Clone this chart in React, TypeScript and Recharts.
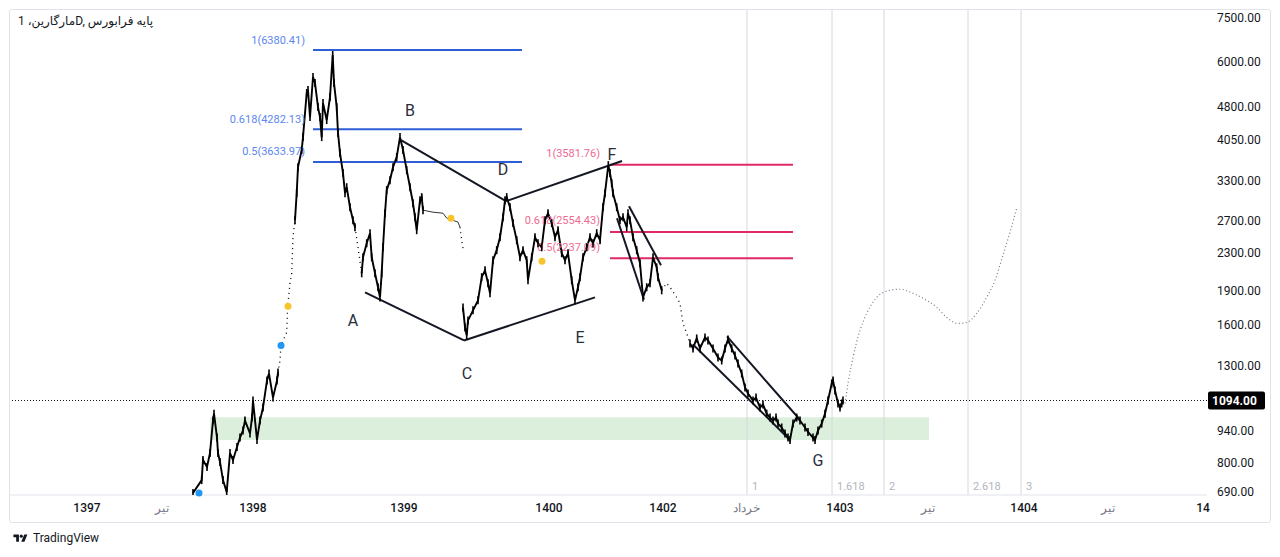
import React from "react";
import {
  ComposedChart,
  Line,
  XAxis,
  YAxis,
  ReferenceLine,
  ReferenceArea,
  ReferenceDot,
} from "recharts";

type Pt = [number, number];

// ---- price path (bar index, price) ----
const rise1397: Pt[] = [
  [183, 687], [191.7, 733], [193, 811], [197, 783], [200, 840], [203, 989], [204, 1024],
  [207, 908], [208, 840], [210, 803], [213, 733], [216.7, 690], [220, 840], [223, 811],
  [227, 866], [230, 908], [233, 941], [235, 989], [240, 927], [242, 1004], [243, 1094],
  [247, 897], [250, 989], [253, 1056], [257, 1210], [259, 1253], [263, 1110], [267, 1210], [268, 1260],
];
const gapUp1398: Pt[] = [
  [268, 1260], [270, 1338], [271, 1443], [276.7, 1541], [277.7, 1757], [280, 1974],
  [281.7, 2075], [283, 2488], [285, 2711],
];
const top1398: Pt[] = [
  [285, 2711], [286.7, 3106], [288, 3540], [291.7, 3858], [293, 4118], [296.7, 5141], [298, 5219],
  [300, 4554], [303, 5571], [305, 5407], [308, 4789], [310, 4554], [311.7, 4118], [313, 4889],
  [316.7, 4487], [320, 5036], [322.7, 6224], [324, 5407], [326.7, 4789], [328, 4203], [330, 3800],
  [333, 3436], [335, 3106], [336.7, 3200], [340, 2893], [343, 2711], [345, 2616],
];
const gapDownA: Pt[] = [[345, 2616], [348, 2365], [351.7, 2075]];
const waveAB: Pt[] = [
  [351.7, 2075], [353, 2249], [356.7, 2414], [360, 2539], [361.7, 2249], [365, 2075], [368, 1934],
  [370, 1838], [371.7, 2075], [373, 2365], [375, 2808], [376.7, 3153], [380, 3316], [383, 3540],
  [386.7, 3723], [390, 4118], [393, 3858], [396.7, 3488], [400, 3200], [403, 2953], [405, 2751],
  [406.7, 2578], [410, 2998], [411.7, 3044], [413, 2851],
];
const flat1399: Pt[] = [[413, 2851], [423, 2822], [433, 2808], [436.7, 2739], [448, 2684], [450, 2616]];
const gapFlat: Pt[] = [[450, 2616], [451.7, 2451], [453, 2353]];
const waveCF: Pt[] = [
  [453, 1748], [455, 1580], [456.7, 1518], [458, 1637], [463, 1722], [468, 1811], [471.7, 2035],
  [475, 2107], [478, 1974], [480, 1876], [483, 2216], [486.7, 2331], [490, 2488], [493, 2751],
  [495, 2998], [496.7, 3044], [500, 2893], [503, 2671], [506.7, 2451], [510, 2249], [513, 2331],
  [516.7, 2216], [518, 2004], [521.7, 2249], [525, 2488], [528, 2414], [531.7, 2365], [535, 2711],
  [538, 2808], [541.7, 2671], [545, 2488], [548, 2578], [551.7, 2296], [555, 2216], [558, 2296],
  [561.7, 2004], [565, 1811], [568, 1934], [570, 2033], [573, 2249], [576.7, 2365], [580, 2488],
  [583, 2414], [586.7, 2539], [590, 2451], [593, 2893], [595, 3106], [598.3, 3576], [600, 3436],
  [601.7, 3266], [603, 3106], [606.7, 2893], [610, 2711], [613, 2751], [616.7, 2616], [618, 2808],
  [620, 2711], [623, 2488], [626.7, 2331], [630, 2183], [633, 1838], [636.7, 1934], [640, 1974],
  [643, 2249], [646.7, 2138], [648, 2033], [651.7, 1905],
];
const gap1402: Pt[] = [
  [651.7, 1905], [656.7, 1974], [660, 1934], [666.7, 1838], [670, 1784], [673, 1612],
  [676.7, 1534], [680, 1458],
];
const waveFG: Pt[] = [
  [680, 1458], [683, 1422], [686.7, 1495], [690, 1422], [695, 1503], [698, 1480], [703, 1422],
  [708, 1358], [711.7, 1338], [715, 1422], [718, 1487], [721.7, 1422], [725, 1372], [728, 1318],
  [731.7, 1253], [735, 1168], [738, 1133], [743, 1094], [746, 1110], [750, 1056], [753, 1072],
  [756.7, 1024], [760, 1004], [763, 989], [766, 1004], [768, 974], [771.7, 955], [775, 927],
  [778, 908], [780, 897], [783, 974], [786.7, 1004], [790, 989], [795, 955], [798, 934],
  [803, 908], [805, 897], [808, 941], [811.7, 974], [815, 1024], [818, 1094], [821.7, 1192],
  [823, 1210], [825, 1150], [828, 1078], [830, 1056], [831.7, 1078], [833, 1094],
];
const projection: Pt[] = [
  [835, 1078], [838, 1192], [843, 1358], [850, 1557], [856.7, 1696], [866.7, 1838], [880, 1905],
  [890, 1915], [903, 1876], [916.7, 1811], [926.7, 1748], [936.7, 1662], [948, 1612],
  [956.7, 1620], [966.7, 1696], [976.7, 1838], [985, 2004], [993, 2273], [1000, 2552], [1007, 2893],
];

// ---- axes ----
const xTicks = [77, 152, 243, 394, 539, 653, 736, 830, 918, 1014, 1098, 1193];
const xTickLabels = ["1397", "تیر", "1398", "1399", "1400", "1402", "خرداد", "1403", "تیر", "1404", "تیر", "14"];
const yTicks = [7500, 6000, 4800, 4050, 3300, 2700, 2300, 1900, 1600, 1300, 940, 800, 690];
const lastPrice = 1094;

// ---- drawings ----
const blueFibLevels = [6380.41, 4282.13, 3633.97];
const blueFibRatios = ["1", "0.618", "0.5"];
const blueFibSpan = [303, 512];
const pinkFibLevels = [3581.76, 2554.43, 2237.09];
const pinkFibRatios = ["1", "0.618", "0.5"];
const pinkFibSpan = [600, 783];

const wedgeLower: Pt[] = [[355, 1886], [454, 1480], [585, 1838]];
const wedgeUpper: Pt[] = [[391, 4057], [496, 2983], [612, 3650]];
const channelOneA: Pt[] = [[619, 2908], [651, 2161]];
const channelOneB: Pt[] = [[607, 2737], [634, 1819]];
const channelTwoA: Pt[] = [[717, 1510], [790, 993]];
const channelTwoB: Pt[] = [[683, 1450], [780, 897]];

const waveLetters = ["A", "B", "C", "D", "E", "F", "G"];
const waveLetterPos: Pt[] = [[343, 1637], [400, 4719], [457, 1253], [493, 3500], [570, 1503], [602, 3781], [808, 807]];

const timeZoneT = [737, 822, 874, 958, 1011];
const timeZoneLabels = ["1", "1.618", "2", "2.618", "3"];

const supportZone = { t1: 200, t2: 919, low: 897, high: 1005 };

const yellowDots: Pt[] = [[278, 1757], [441, 2737], [532, 2205]];
const blueDots: Pt[] = [[271, 1443], [189, 687]];

const title = "مارگارین، 1D, پایه فرابورس";

const FONT = "Roboto, 'Noto Sans', Arial, sans-serif";
const X_DOMAIN: [number, number] = [0, 1197];
const Y_DOMAIN: [number, number] = [680, 7806];

const rows = (pts: Pt[]) => pts.map(([t, p]) => ({ t, p }));

const XTick = (props: any) => {
  const { x, y, payload } = props;
  const i = xTicks.indexOf(payload.value);
  const label = xTickLabels[i] ?? "";
  const major = /^\d+$/.test(label);
  return (
    <text
      x={x}
      y={y + 13}
      textAnchor="middle"
      dominantBaseline="central"
      fontFamily={FONT}
      fontSize={12}
      fontWeight={major ? 500 : 400}
      fill={major ? "#131722" : "#787b86"}
    >
      {label}
    </text>
  );
};

const YTick = (props: any) => {
  const { x, y, payload } = props;
  return (
    <text x={x + 10} y={y} textAnchor="start" dominantBaseline="central" fontFamily={FONT} fontSize={12} fill="#131722">
      {Number(payload.value).toFixed(2)}
    </text>
  );
};

// a short vertical stroke at each bar, so the path reads as a run of thin bars
const BarTick = (props: any) => {
  const { cx, cy } = props;
  if (cx == null || cy == null) return <g />;
  return <line x1={cx} x2={cx} y1={cy - 4} y2={cy + 4} stroke="#000" strokeWidth={1.6} />;
};

const solidLine = (pts: Pt[], key: string) => (
  <Line
    key={key}
    data={rows(pts)}
    dataKey="p"
    type="linear"
    stroke="#000"
    strokeWidth={1.9}
    dot={<BarTick />}
    activeDot={false}
    isAnimationActive={false}
  />
);
const dottedLine = (pts: Pt[], key: string) => (
  <Line
    key={key}
    data={rows(pts)}
    dataKey="p"
    type="linear"
    stroke="#000"
    strokeWidth={1.3}
    strokeDasharray="1 4"
    dot={false}
    activeDot={false}
    isAnimationActive={false}
  />
);
const segLines = (pts: Pt[], key: string) =>
  pts.slice(1).map(([t, p], i) => (
    <ReferenceLine
      key={`${key}${i}`}
      segment={[
        { x: pts[i][0], y: pts[i][1] },
        { x: t, y: p },
      ]}
      stroke="#131722"
      strokeWidth={2}
    />
  ));

export default function App() {
  return (
    <div style={{ position: "relative", width: 1264, height: 545, fontFamily: FONT }}>
      <div
        style={{
          position: "absolute",
          left: 1,
          top: 1,
          width: 1260,
          height: 512,
          border: "1px solid #e0e3eb",
          borderRadius: 3,
          pointerEvents: "none",
        }}
      />
      <ComposedChart width={1262} height={514} margin={{ top: 2, right: 2, bottom: 0, left: 2 }}>
        <XAxis
          type="number"
          dataKey="t"
          domain={X_DOMAIN}
          allowDataOverflow
          ticks={xTicks}
          tick={<XTick />}
          tickLine={false}
          tickSize={0}
          tickMargin={0}
          axisLine={{ stroke: "#e0e3eb" }}
          height={27}
          interval={0}
        />
        <YAxis
          type="number"
          scale="log"
          domain={Y_DOMAIN}
          allowDataOverflow
          orientation="right"
          ticks={yTicks}
          tick={<YTick />}
          tickLine={false}
          tickSize={0}
          tickMargin={0}
          axisLine={false}
          width={61}
          interval={0}
        />

        {timeZoneT.map((t) => (
          <ReferenceLine key={`tz${t}`} x={t} stroke="#d6d8de" strokeWidth={1} />
        ))}
        {timeZoneT.map((t, i) => (
          <ReferenceDot
            key={`tzl${t}`}
            x={t}
            y={Y_DOMAIN[0]}
            r={0}
            shape={(p: any) => (
              <text x={p.cx + 5} y={p.cy - 9} fontFamily={FONT} fontSize={11} fill="#b2b5be" dominantBaseline="central">
                {timeZoneLabels[i]}
              </text>
            )}
          />
        ))}

        <ReferenceArea
          x1={supportZone.t1}
          x2={supportZone.t2}
          y1={supportZone.low}
          y2={supportZone.high}
          fill="#4caf50"
          fillOpacity={0.2}
          stroke="none"
        />

        <ReferenceLine y={lastPrice} stroke="#131722" strokeWidth={1} strokeDasharray="1 2" />

        {blueFibLevels.map((v, i) => (
          <ReferenceLine
            key={`bf${i}`}
            segment={[{ x: blueFibSpan[0], y: v }, { x: blueFibSpan[1], y: v }]}
            stroke="#2e5ed6"
            strokeWidth={2}
          />
        ))}
        {blueFibLevels.map((v, i) => (
          <ReferenceDot
            key={`bfl${i}`}
            x={blueFibSpan[0]}
            y={v}
            r={0}
            shape={(p: any) => (
              <text x={p.cx - 8} y={p.cy - 10} textAnchor="end" dominantBaseline="central" fontFamily={FONT} fontSize={11} fill="#5b87ee">
                {`${blueFibRatios[i]}(${v.toFixed(2)})`}
              </text>
            )}
          />
        ))}
        {pinkFibLevels.map((v, i) => (
          <ReferenceLine
            key={`pf${i}`}
            segment={[{ x: pinkFibSpan[0], y: v }, { x: pinkFibSpan[1], y: v }]}
            stroke="#df2a63"
            strokeWidth={2}
          />
        ))}
        {pinkFibLevels.map((v, i) => (
          <ReferenceDot
            key={`pfl${i}`}
            x={pinkFibSpan[0]}
            y={v}
            r={0}
            shape={(p: any) => (
              <text x={p.cx - 10} y={p.cy - 11} textAnchor="end" dominantBaseline="central" fontFamily={FONT} fontSize={11} fill="#ee6b92">
                {`${pinkFibRatios[i]}(${v.toFixed(2)})`}
              </text>
            )}
          />
        ))}

        {solidLine(rise1397, "s1")}
        {dottedLine(gapUp1398, "d1")}
        {solidLine(top1398, "s2")}
        {dottedLine(gapDownA, "d2")}
        {solidLine(waveAB, "s3")}
        <Line
          data={rows(flat1399)}
          dataKey="p"
          type="linear"
          stroke="#333"
          strokeWidth={1}
          dot={false}
          activeDot={false}
          isAnimationActive={false}
        />
        {dottedLine(gapFlat, "d3")}
        {solidLine(waveCF, "s4")}
        {dottedLine(gap1402, "d4")}
        {solidLine(waveFG, "s5")}
        <Line
          data={rows(projection)}
          dataKey="p"
          type="monotone"
          stroke="#787b86"
          strokeWidth={1.2}
          strokeDasharray="1 2.5"
          dot={false}
          activeDot={false}
          isAnimationActive={false}
        />

        {segLines(wedgeLower, "wl")}
        {segLines(wedgeUpper, "wu")}
        {segLines(channelOneA, "c1a")}
        {segLines(channelOneB, "c1b")}
        {segLines(channelTwoA, "c2a")}
        {segLines(channelTwoB, "c2b")}

        {yellowDots.map(([t, p], i) => (
          <ReferenceDot key={`yd${i}`} x={t} y={p} r={3.5} fill="#f7c52b" stroke="none" />
        ))}
        {blueDots.map(([t, p], i) => (
          <ReferenceDot key={`bd${i}`} x={t} y={p} r={3.5} fill="#2196f3" stroke="none" />
        ))}

        {waveLetters.map((L, i) => (
          <ReferenceDot
            key={`wl${L}`}
            x={waveLetterPos[i][0]}
            y={waveLetterPos[i][1]}
            r={0}
            shape={(p: any) => (
              <text x={p.cx} y={p.cy} textAnchor="middle" dominantBaseline="central" fontFamily={FONT} fontSize={16} fill="#2a2e39">
                {L}
              </text>
            )}
          />
        ))}

        <ReferenceDot
          x={X_DOMAIN[1]}
          y={lastPrice}
          r={0}
          shape={(p: any) => (
            <g>
              <rect x={p.cx + 1} y={p.cy - 9} width={57} height={18} rx={2} fill="#000" />
              <text x={p.cx + 5} y={p.cy} dominantBaseline="central" fontFamily={FONT} fontSize={12} fontWeight={700} fill="#fff">
                {lastPrice.toFixed(2)}
              </text>
            </g>
          )}
        />
      </ComposedChart>

      <div
        style={{
          position: "absolute",
          left: 10,
          top: 6,
          fontSize: 12,
          color: "#131722",
          direction: "ltr",
          whiteSpace: "pre",
          fontFamily: "Roboto, 'DejaVu Sans', sans-serif",
        }}
      >
        {title}
      </div>

      <div
        style={{
          position: "absolute",
          left: 4,
          top: 523,
          display: "flex",
          alignItems: "center",
          gap: 4,
          fontSize: 12,
          color: "#131722",
        }}
      >
        <svg width={17} height={11} viewBox="0 0 36 28">
          <path d="M14 22H7V11H0V4h14v18z" fill="#131722" />
          <circle cx="20" cy="8" r="4" fill="#131722" />
          <path d="M28 22h-8l7.5-18h8L28 22z" fill="#131722" />
        </svg>
        <span>TradingView</span>
      </div>
    </div>
  );
}
